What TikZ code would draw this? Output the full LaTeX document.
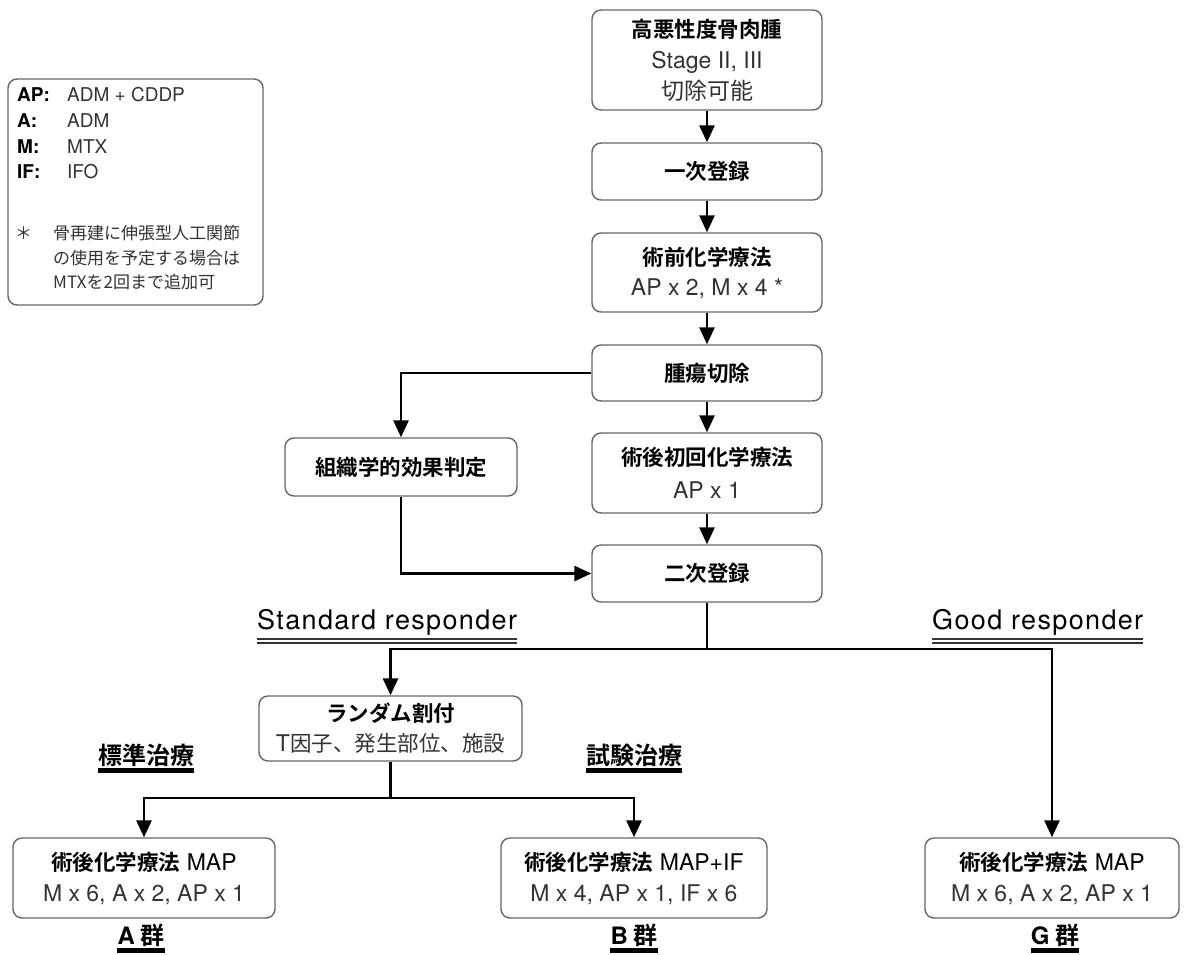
\documentclass[tikz,border=0pt]{standalone}
\usepackage{fontspec}
\setmainfont{TeX Gyre Heros}
\newfontfamily\jp{Noto Sans CJK JP}
\newfontfamily\jpb{Noto Sans CJK JP Bold}
\newfontfamily\resp{TeX Gyre Heros}[LetterSpace=5]
\usetikzlibrary{arrows.meta}
\definecolor{boxgray}{HTML}{666666}
\definecolor{txt}{HTML}{333333}
\newcommand\jhead[1]{{\jpb\fontsize{21.5}{31}\selectfont\color{black}#1}}
\newcommand\lhead[1]{{\color{black}#1}}
\begin{document}
\begin{tikzpicture}[x=1pt,y=-1pt,
  box/.style={draw=boxgray, line width=1.4pt, rounded corners=9pt, fill=white,
    align=center, inner sep=0pt, text=txt, minimum width=#1,
    font=\fontsize{23}{31}\selectfont},
  box/.default=230pt,
  conn/.style={line width=2.8pt, draw=black},
  arr/.style={conn, -{Triangle[width=15pt,length=17pt]}},
  legtxt/.style={anchor=west, inner sep=0pt, text=txt, font=\fontsize{19}{20}\selectfont},
  legjp/.style={anchor=west, inner sep=0pt, text=txt, font=\jp\fontsize{17}{20}\selectfont},
  legkey/.style={anchor=west, inner sep=0pt, text=black, font=\bfseries\fontsize{19}{20}\selectfont},
  resplabel/.style={anchor=base west, inner sep=0pt, text=black, font=\resp\fontsize{27}{30}\selectfont},
  grouplabel/.style={inner sep=0pt, text=black, font=\jpb\fontsize{24}{28}\selectfont},
  dline/.style={line width=1.2pt, draw=black!80},
  uline/.style={line width=4.5pt, draw=black}
]
\fill[white] (0,0) rectangle (1184,954);

% legend
\node[draw=boxgray, line width=1.4pt, rounded corners=9pt, minimum width=255pt, minimum height=226pt, inner sep=0pt] (legend) at (135.5,192) {};
\node[legkey] (k1) at (17,95) {AP:};
\node[legtxt] (v1) at (67,95) {ADM + CDDP};
\node[legkey] (k2) at (17,121) {A:};
\node[legtxt] (v2) at (67,121) {ADM};
\node[legkey] (k3) at (17,147) {M:};
\node[legtxt] (v3) at (67,147) {MTX};
\node[legkey] (k4) at (17,172) {IF:};
\node[legtxt] (v4) at (67,172) {IFO};
\node[legjp] (star) at (15,233) {＊};
\node[legjp] (n1) at (53,233) {骨再建に伸張型人工関節};
\node[legjp] (n2) at (53,258) {の使用を予定する場合は};
\node[legjp] (n3) at (53,282) {MTXを2回まで追加可};

% main column
\node[box, minimum height=100pt] (top) at (707,60) {\jhead{高悪性度骨肉腫}\\Stage II, III\\{\jp 切除可能}};
\node[box, minimum height=57pt] (reg1) at (707,171.5) {\jhead{一次登録}};
\node[box, minimum height=79pt] (pre) at (707,272.5) {\jhead{術前化学療法}\\[-1pt]AP x 2, M x 4 *};
\node[box, minimum height=56pt] (res) at (707,373) {\jhead{腫瘍切除}};
\node[box, minimum height=80pt] (post1) at (707,473) {\jhead{術後初回化学療法}\\[2pt]AP x 1};
\node[box, minimum height=57pt] (reg2) at (707,573.5) {\jhead{二次登録}};
\node[box=232pt, minimum height=58pt] (histo) at (401,467) {\jhead{組織学的効果判定}};

\node[box=263pt, minimum height=65pt, font=\fontsize{23}{30}\selectfont] (rand) at (390.5,728.5) {\jhead{ランダム割付}\\T{\jp\fontsize{21.5}{30}\selectfont 因子、発生部位、施設}};

\node[box=262pt, minimum height=80pt] (abox) at (144,878) {\jhead{術後化学療法}~\lhead{MAP}\\M x 6, A x 2, AP x 1};
\node[box=266pt, minimum height=80pt] (bbox) at (634,878) {\jhead{術後化学療法}~\lhead{MAP+IF}\\M x 4, AP x 1, IF x 6};
\node[box=254pt, minimum height=80pt] (gbox) at (1052,878) {\jhead{術後化学療法}~\lhead{MAP}\\M x 6, A x 2, AP x 1};

% connectors
\draw[arr] (top) -- (reg1);
\draw[arr] (reg1) -- (pre);
\draw[arr] (pre) -- (res);
\draw[arr] (res) -- (post1);
\draw[arr] (post1) -- (reg2);
\draw[arr] (res.west) -| (histo.north);
\draw[arr] (histo.south) |- (reg2.west);
\coordinate (split) at (707,649);
\draw[conn] (reg2.south) -- (split);
\draw[arr] (split) -| (rand.north);
\draw[arr] (split) -| (gbox.north);
\coordinate (split2) at (390.5,798);
\draw[conn] (rand.south) -- (split2);
\draw[arr] (split2) -| (abox.north);
\draw[arr] (split2) -| (bbox.north);

% responder labels
\node[resplabel] (std) at (257,629) {Standard responder};
\node[resplabel] (good) at (932,629) {Good responder};
\draw[dline] ([yshift=-10pt]std.base west) -- ([yshift=-10pt]std.base east);
\draw[dline] ([yshift=-14pt]std.base west) -- ([yshift=-14pt]std.base east);
\draw[dline] ([yshift=-10pt]good.base west) -- ([yshift=-10pt]good.base east);
\draw[dline] ([yshift=-14pt]good.base west) -- ([yshift=-14pt]good.base east);

% treatment labels
\node[grouplabel] (stdtx) at (146,755) {標準治療};
\node[grouplabel] (exptx) at (634,755) {試験治療};
\draw[uline] ([yshift=-6.5pt]stdtx.base west) -- ([yshift=-6.5pt]stdtx.base east);
\draw[uline] ([yshift=-6.5pt]exptx.base west) -- ([yshift=-6.5pt]exptx.base east);

% group labels
\node[grouplabel] (ga) at (141,935) {{\bfseries\fontspec{TeX Gyre Heros}A} 群};
\node[grouplabel] (gb) at (634,935) {{\bfseries\fontspec{TeX Gyre Heros}B} 群};
\node[grouplabel] (gg) at (1055,935) {{\bfseries\fontspec{TeX Gyre Heros}G} 群};
\draw[uline] ([yshift=-6.5pt]ga.base west) -- ([yshift=-6.5pt]ga.base east);
\draw[uline] ([yshift=-6.5pt]gb.base west) -- ([yshift=-6.5pt]gb.base east);
\draw[uline] ([yshift=-6.5pt]gg.base west) -- ([yshift=-6.5pt]gg.base east);
\end{tikzpicture}
\end{document}
